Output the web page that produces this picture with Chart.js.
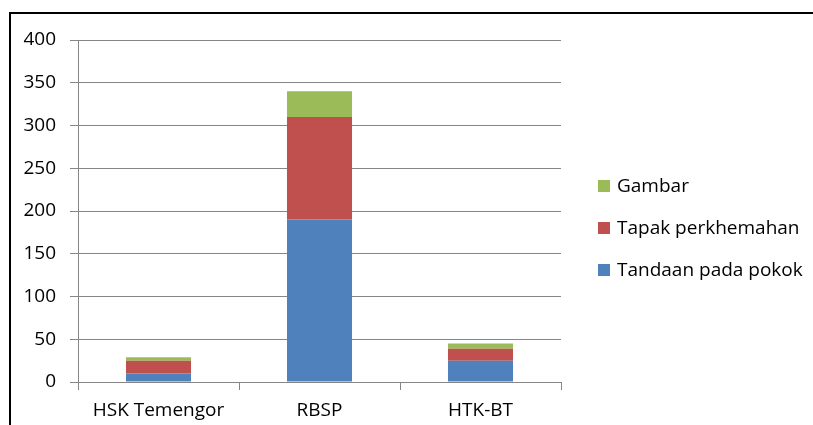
<!DOCTYPE html>
<html>
<head>
<meta charset="utf-8">
<script src="https://cdn.jsdelivr.net/npm/chart.js@4/dist/chart.umd.min.js"></script>
<style>
  html, body { margin: 0; padding: 0; background: #fff; }
  #wrap { width: 813px; height: 425px; }
</style>
</head>
<body>
<div id="wrap"><canvas id="c" width="813" height="425"></canvas></div>
<script>
// data
const categories = ['HSK Temengor', 'RBSP', 'HTK-BT'];
const tandaan = [10, 190, 25];
const tapak = [15, 120, 14];
const gambar = [4, 30, 6];
const yTicks = [0, 50, 100, 150, 200, 250, 300, 350, 400];

const FONT = '"Open Sans", "Noto Sans", sans-serif';

// outer frame + legend drawn by hand so the spacing matches
const framePlugin = {
  id: 'frame',
  afterDraw(chart) {
    const ctx = chart.ctx;
    ctx.save();
    ctx.strokeStyle = '#000';
    ctx.lineWidth = 2;
    ctx.beginPath();
    ctx.moveTo(10, 430);
    ctx.lineTo(10, 13);
    ctx.lineTo(820, 13);
    ctx.stroke();

    // legend, reversed order like the reference
    const items = chart.data.datasets.slice().reverse();
    ctx.font = '19px ' + FONT;
    ctx.textBaseline = 'middle';
    items.forEach(function(ds, i) {
      const y = 186 + i * 42;
      ctx.fillStyle = ds.backgroundColor;
      ctx.fillRect(598, y - 6, 12, 12);
      ctx.fillStyle = '#000';
      ctx.fillText(ds.label, 617, y + 1);
    });
    ctx.restore();
  }
};

new Chart(document.getElementById('c'), {
  type: 'bar',
  data: {
    labels: categories,
    datasets: [
      { label: 'Tandaan pada pokok', data: tandaan, backgroundColor: '#4F81BD' },
      { label: 'Tapak perkhemahan', data: tapak, backgroundColor: '#C0504D' },
      { label: 'Gambar', data: gambar, backgroundColor: '#9BBB59' }
    ]
  },
  options: {
    responsive: false,
    animation: false,
    layout: { padding: { left: 0, top: 40, right: 252, bottom: 0 } },
    datasets: { bar: { categoryPercentage: 1, barPercentage: 0.404 } },
    plugins: { legend: { display: false }, tooltip: { enabled: false } },
    scales: {
      x: {
        stacked: true,
        afterFit: function(s) { s.height = 43; },
        grid: { offset: true, drawOnChartArea: false, tickLength: 8, color: '#868686' },
        border: { color: '#868686' },
        ticks: { color: '#000', font: { family: FONT, size: 19 }, padding: 9 }
      },
      y: {
        stacked: true,
        min: 0,
        max: 400,
        afterFit: function(s) { s.width = 78; },
        afterBuildTicks: function(s) { s.ticks = yTicks.map(function(v) { return { value: v }; }); },
        grid: { color: '#868686', tickLength: 8 },
        border: { color: '#868686' },
        ticks: { color: '#000', font: { family: FONT, size: 19 }, padding: 14 }
      }
    }
  },
  plugins: [framePlugin]
});
</script>
</body>
</html>
